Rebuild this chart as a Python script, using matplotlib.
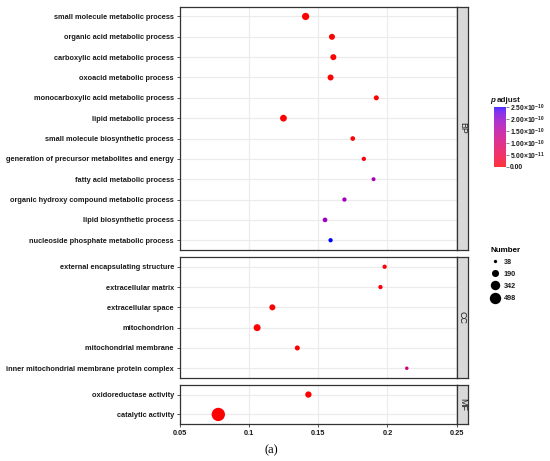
import numpy as np
import matplotlib
matplotlib.use("Agg")
import matplotlib.pyplot as plt
from matplotlib.colors import LinearSegmentedColormap, Normalize
from matplotlib.lines import Line2D
import matplotlib as mpl

# ---------------- data ----------------
bp_terms = ["small molecule metabolic process", "organic acid metabolic process",
            "carboxylic acid metabolic process", "oxoacid metabolic process",
            "monocarboxylic acid metabolic process", "lipid metabolic process",
            "small molecule biosynthetic process", "generation of precursor metabolites and energy",
            "fatty acid metabolic process", "organic hydroxy compound metabolic process",
            "lipid biosynthetic process", "nucleoside phosphate metabolic process"]
bp_ratio = [0.141, 0.160, 0.161, 0.159, 0.192, 0.125, 0.175, 0.183, 0.190, 0.169, 0.155, 0.159]
bp_count = [200, 135, 135, 135, 93, 175, 80, 67, 57, 67, 80, 67]
bp_padj = [2e-20, 3e-15, 3e-15, 3e-15, 5e-13, 1e-18, 2e-12, 6e-12, 1.75e-10, 1.8e-10, 1.85e-10, 2.52e-10]

cc_terms = ["external encapsulating structure", "extracellular matrix", "extracellular space",
            "mitochondrion", "mitochondrial membrane", "inner mitochondrial membrane protein complex"]
cc_ratio = [0.198, 0.195, 0.117, 0.106, 0.135, 0.214]
cc_count = [67, 67, 135, 185, 93, 43]
cc_padj = [3e-12, 4e-12, 1e-15, 1e-20, 1e-13, 1.15e-10]

mf_terms = ["oxidoreductase activity", "catalytic activity"]
mf_ratio = [0.143, 0.078]
mf_count = [150, 686]
mf_padj = [1e-14, 1e-30]

ontologies = ["BP", "CC", "MF"]
x_ticks = [0.05, 0.1, 0.15, 0.2, 0.25]
x_ticklabels = ["0.05", "0.1", "0.15", "0.2", "0.25"]
size_breaks = [38, 190, 342, 498]
cbar_ticks = [0, 5e-11, 1e-10, 1.5e-10, 2e-10, 2.5e-10]
cbar_labels = [r"0.00", r"5.00$\times$10$^{-11}$", r"1.00$\times$10$^{-10}$",
               r"1.50$\times$10$^{-10}$", r"2.00$\times$10$^{-10}$", r"2.50$\times$10$^{-10}$"]

# ---------------- colour map: Lab interpolation red -> blue ----------------
def srgb_to_lab(rgb):
    rgb = np.asarray(rgb, float)
    lin = np.where(rgb <= 0.04045, rgb / 12.92, ((rgb + 0.055) / 1.055) ** 2.4)
    M = np.array([[0.4124, 0.3576, 0.1805], [0.2126, 0.7152, 0.0722], [0.0193, 0.1192, 0.9505]])
    xyz = M @ lin
    wp = np.array([0.95047, 1.0, 1.08883])
    t = xyz / wp
    f = np.where(t > (6 / 29) ** 3, np.cbrt(t), t / (3 * (6 / 29) ** 2) + 4 / 29)
    return np.array([116 * f[1] - 16, 500 * (f[0] - f[1]), 200 * (f[1] - f[2])])

def lab_to_srgb(lab):
    L, a, b = lab
    fy_ = (L + 16) / 116
    fx_ = fy_ + a / 500
    fz_ = fy_ - b / 200
    def finv(f):
        return f ** 3 if f > 6 / 29 else 3 * (6 / 29) ** 2 * (f - 4 / 29)
    wp = np.array([0.95047, 1.0, 1.08883])
    xyz = np.array([finv(fx_), finv(fy_), finv(fz_)]) * wp
    Minv = np.array([[3.2406, -1.5372, -0.4986], [-0.9689, 1.8758, 0.0415], [0.0557, -0.2040, 1.0570]])
    lin = np.clip(Minv @ xyz, 0, 1)
    rgb = np.where(lin <= 0.0031308, 12.92 * lin, 1.055 * lin ** (1 / 2.4) - 0.055)
    return np.clip(rgb, 0, 1)

lab_r = srgb_to_lab([1, 0, 0])
lab_b = srgb_to_lab([0, 0, 1])
cols = [lab_to_srgb(lab_r + (lab_b - lab_r) * t) for t in np.linspace(0, 1, 64)]
cmap = LinearSegmentedColormap.from_list("rb", cols)

all_padj = bp_padj + cc_padj + mf_padj
norm = Normalize(vmin=0, vmax=max(all_padj))

def msize(n):
    return 0.67 + 0.133 * np.asarray(n, float)

# ---------------- figure ----------------
plt.rcParams["font.family"] = ["Liberation Sans", "DejaVu Sans"]
plt.rcParams["mathtext.fontset"] = "custom"
plt.rcParams["mathtext.rm"] = "Liberation Sans:bold"
plt.rcParams["mathtext.it"] = "Liberation Sans:bold:italic"
plt.rcParams["mathtext.bf"] = "Liberation Sans:bold"

W, H = 550, 461
fig = plt.figure(figsize=(W / 100, H / 100), dpi=100)

def fx(px):
    return px / W

def fy(py):
    return 1 - py / H

left_px, right_px = 179.5, 456.7
panels = [
    (bp_terms, bp_ratio, bp_count, bp_padj, 6.7, 250.0),
    (cc_terms, cc_ratio, cc_count, cc_padj, 257.0, 378.0),
    (mf_terms, mf_ratio, mf_count, mf_padj, 385.0, 424.0),
]
dark = "#333333"
fs = 5.35
for i, (terms, ratio, count, padj, top, bot) in enumerate(panels):
    ax = fig.add_axes([fx(left_px), fy(bot), fx(right_px - left_px), (bot - top) / H])
    n = len(terms)
    y = np.arange(n)
    ax.scatter(ratio, y, s=msize(count), c=padj, cmap=cmap, norm=norm,
               edgecolors="none", zorder=3, clip_on=False)
    ax.set_xlim(0.05, 0.25)
    ax.set_ylim(n - 1 + 0.48, -0.48)
    ax.set_yticks(y)
    ax.set_yticklabels(terms, fontsize=fs, fontweight="bold", color="#1a1a1a")
    ax.set_xticks(x_ticks)
    ax.grid(True, color="#EBEBEB", lw=0.8, zorder=0)
    ax.set_axisbelow(True)
    for sp in ax.spines.values():
        sp.set_color(dark)
        sp.set_linewidth(0.9)
    ax.tick_params(axis="y", length=2.5, width=0.6, color=dark, pad=1.5)
    if i < 2:
        ax.tick_params(axis="x", length=0, labelbottom=False)
    else:
        ax.set_xticklabels(x_ticklabels, fontsize=fs, fontweight="bold", color="#1a1a1a")
        ax.tick_params(axis="x", length=2.5, width=0.6, color=dark, pad=1.5)
    # strip
    sax = fig.add_axes([fx(457.0), fy(bot), fx(11.0), (bot - top) / H])
    sax.set_facecolor("#D9D9D9")
    sax.set_xticks([])
    sax.set_yticks([])
    for sp in sax.spines.values():
        sp.set_color(dark)
        sp.set_linewidth(0.9)
    sax.text(0.5, 0.5, ontologies[i], rotation=270, ha="center", va="center",
             fontsize=6.4, color="#1a1a1a", transform=sax.transAxes)

# ---------------- colourbar ----------------
cax = fig.add_axes([fx(494.3), fy(166.7), fx(11.7), 60.0 / H])
cb = mpl.colorbar.ColorbarBase(cax, cmap=cmap, norm=norm, orientation="vertical")
cb.solids.set_alpha(0.8)
cb.outline.set_visible(False)
cb.set_ticks(cbar_ticks)
cb.set_ticklabels(cbar_labels)
cax.tick_params(axis="y", length=2, width=0.5, color="#555555", labelsize=4.9, pad=1, labelcolor="#1a1a1a")
for t in cax.get_yticklabels():
    t.set_fontweight("bold")
fig.text(fx(490.0), fy(101.5), "p", fontsize=5.8, fontweight="bold", style="italic", color="#1a1a1a", va="baseline")
fig.text(fx(497.0), fy(101.5), "adjust", fontsize=5.8, fontweight="bold", color="#1a1a1a", va="baseline")

# ---------------- size legend ----------------
handles = [Line2D([], [], ls="none", marker="o", markersize=np.sqrt(msize(v)),
                  markerfacecolor="black", markeredgecolor="none") for v in size_breaks]
leg = fig.legend(handles, [str(v) for v in size_breaks], title="Number", loc="upper left",
                 bbox_to_anchor=(fx(487.0), fy(243.0)), frameon=False, fontsize=5.2,
                 labelspacing=0.7, handletextpad=0.6, borderpad=0, handlelength=1.2,
                 alignment="left")
leg.get_title().set_fontweight("bold")
leg.get_title().set_fontsize(5.8)
for t in leg.get_texts():
    t.set_fontweight("bold")
    t.set_color("#1a1a1a")

fig.text(fx(271.7), fy(450.0), "(a)", fontsize=9, family="Liberation Serif", ha="center", va="center")

fig.savefig("out.png", dpi=100)
